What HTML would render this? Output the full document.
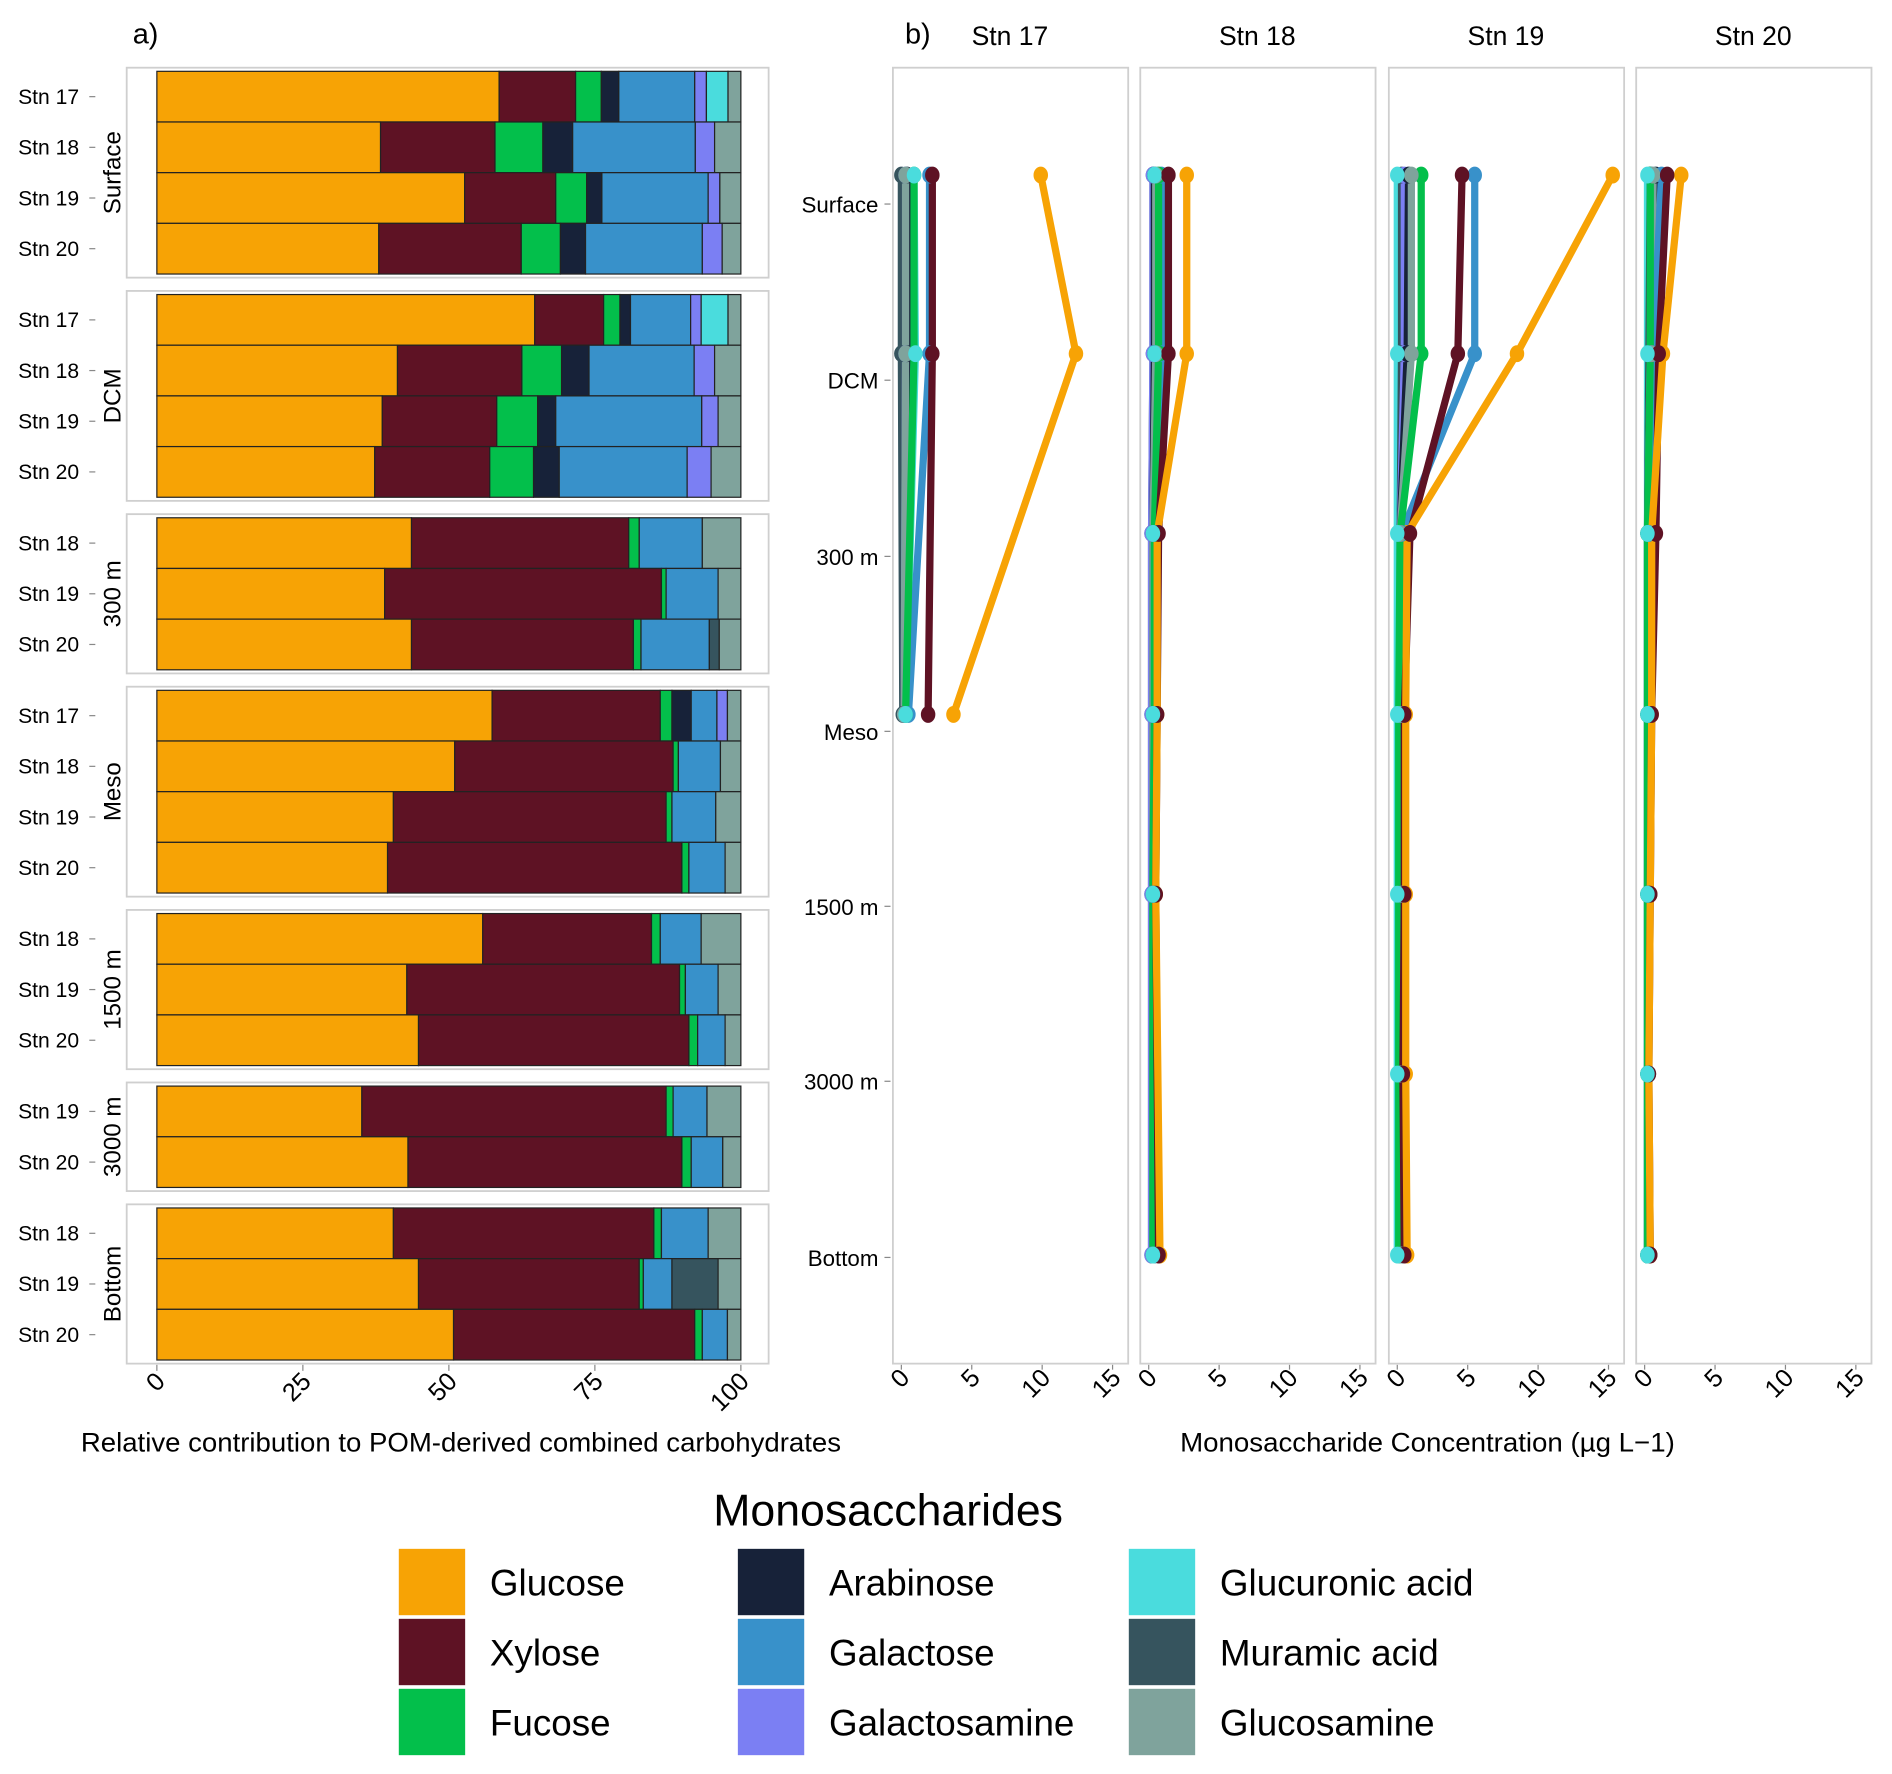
<!DOCTYPE html>
<html><head><meta charset="utf-8"><style>
html,body{margin:0;padding:0;background:#fff;}
svg{display:block;font-family:"Liberation Sans",sans-serif;}
</style></head><body>
<svg id="fig" width="1892" height="1774" viewBox="0 0 1568 1470" xmlns="http://www.w3.org/2000/svg">
<text x="110" y="36" font-size="24">a)</text>
<text x="750" y="36" font-size="24">b)</text>
<g id="pa"></g><g id="pb"></g><g id="leg"></g>
</svg>
<script>
const series = ["Glucose","Xylose","Fucose","Arabinose","Galactose","Galactosamine","Glucuronic acid","Muramic acid","Glucosamine"];
const colors = ["#f7a305","#5e1224","#03bf4b","#172239","#3891ca","#7b7ff3","#4adcdd","#36545e","#7fa39c"];
const facets = ["Surface","DCM","300 m","Meso","1500 m","3000 m","Bottom"];
const facetStations = [["Stn 17","Stn 18","Stn 19","Stn 20"],["Stn 17","Stn 18","Stn 19","Stn 20"],["Stn 18","Stn 19","Stn 20"],["Stn 17","Stn 18","Stn 19","Stn 20"],["Stn 18","Stn 19","Stn 20"],["Stn 19","Stn 20"],["Stn 18","Stn 19","Stn 20"]];
// cumulative boundaries (%) per bar, order of series
const relEdges = [
 [[58.6,71.7,76.1,79.1,92.1,94.1,97.8,97.8,100],[38.3,57.9,66.1,71.2,92.2,95.5,95.5,95.5,100],[52.7,68.3,73.6,76.2,94.4,96.4,96.4,96.4,100],[38.0,62.4,69.1,73.4,93.4,96.8,96.8,96.8,100]],
 [[64.7,76.5,79.3,81.1,91.4,93.2,97.8,97.8,100],[41.2,62.5,69.3,74.0,92.0,95.5,95.5,95.5,100],[38.6,58.2,65.2,68.3,93.3,96.1,96.1,96.1,100],[37.3,57.0,64.5,68.9,90.8,94.9,94.9,94.9,100]],
 [[43.6,80.8,82.6,82.6,93.4,93.4,93.4,93.4,100],[39.0,86.4,87.2,87.2,96.1,96.1,96.1,96.1,100],[43.6,81.6,82.9,82.9,94.6,94.6,94.6,96.3,100]],
 [[57.4,86.2,88.2,91.5,95.9,97.7,97.7,97.7,100],[51.0,88.4,89.3,89.3,96.5,96.5,96.5,96.5,100],[40.5,87.2,88.2,88.2,95.7,95.7,95.7,95.7,100],[39.5,89.9,91.1,91.1,97.3,97.3,97.3,97.3,100]],
 [[55.8,84.7,86.2,86.2,93.2,93.2,93.2,93.2,100],[42.8,89.5,90.5,90.5,96.1,96.1,96.1,96.1,100],[44.8,91.1,92.6,92.6,97.3,97.3,97.3,97.3,100]],
 [[35.1,87.2,88.4,88.4,94.2,94.2,94.2,94.2,100],[43.0,89.9,91.5,91.5,96.9,96.9,96.9,96.9,100]],
 [[40.5,85.1,86.4,86.4,94.4,94.4,94.4,94.4,100],[44.8,82.6,83.3,83.3,88.2,88.2,88.2,96.1,100],[50.8,92.1,93.4,93.4,97.7,97.7,97.7,97.7,100]]
];
const relTicks = [0,25,50,75,100];
const depths = ["Surface","DCM","300 m","Meso","1500 m","3000 m","Bottom"];
const stations = ["Stn 17","Stn 18","Stn 19","Stn 20"];
const concTicks = [0,5,10,15];
const stnDepthIdx = [[0,1,3],[0,1,2,3,4,6],[0,1,2,3,4,5,6],[0,1,2,3,4,5,6]];
const conc = [
 [[9.9,12.4,3.7],[2.2,2.2,1.9],[0.9,0.9,0.3],[0.4,0.4,0.2],[2.0,2.0,0.5],[0.3,0.3,0.2],[0.9,1.0,0.3],[0.0,0.0,0.1],[0.3,0.3,0.2]],
 [[2.7,2.7,0.6,0.6,0.5,0.8],[1.4,1.4,0.7,0.6,0.5,0.7],[0.7,0.7,0.4,0.4,0.3,0.3],[0.4,0.4,0.3,0.3,0.3,0.3],[0.9,0.9,0.4,0.4,0.3,0.4],[0.3,0.3,0.2,0.2,0.2,0.2],[0.4,0.4,0.3,0.3,0.3,0.3],[0.3,0.3,0.2,0.2,0.2,0.2],[0.5,0.5,0.3,0.3,0.3,0.3]],
 [[15.3,8.5,0.7,0.6,0.6,0.6,0.7],[4.6,4.3,0.9,0.5,0.5,0.4,0.5],[1.7,1.7,0.2,0.1,0.1,0.1,0.1],[0.8,0.7,0.2,0.2,0.2,0.2,0.2],[5.5,5.5,0.3,0.3,0.3,0.3,0.3],[0.5,0.5,0.2,0.2,0.2,0.2,0.2],[0.0,0.0,0.0,0.0,0.0,0.0,0.0],[0.3,0.3,0.2,0.2,0.2,0.2,0.2],[1.0,1.0,0.2,0.2,0.2,0.2,0.2]],
 [[2.6,1.3,0.5,0.5,0.4,0.3,0.4],[1.6,1.0,0.8,0.5,0.4,0.3,0.4],[0.4,0.4,0.2,0.2,0.2,0.2,0.2],[0.8,0.6,0.3,0.3,0.3,0.3,0.3],[1.2,0.6,0.3,0.3,0.3,0.3,0.3],[0.5,0.4,0.2,0.2,0.2,0.2,0.2],[0.2,0.2,0.2,0.2,0.2,0.2,0.2],[0.4,0.3,0.2,0.2,0.2,0.2,0.2],[0.6,0.5,0.3,0.3,0.3,0.3,0.3]]
];
const NS="http://www.w3.org/2000/svg";
function mk(tag,attrs,parent,txt){const e=document.createElementNS(NS,tag);for(const k in attrs)e.setAttribute(k,attrs[k]);if(txt!==undefined)e.textContent=txt;parent.appendChild(e);return e;}
// Panel a
const pa=document.getElementById('pa');
const xA=v=>130+v*4.84;
let y=56;
facets.forEach((f,fi)=>{
  const n=facetStations[fi].length;
  const h=n*42+6;
  const box=mk('rect',{x:105,y:y,width:532,height:h,fill:'none',stroke:'#cfcfcf','stroke-width':1.5},pa);
  
  
  const lab=mk('text',{x:0,y:0,'font-size':20,'text-anchor':'middle',transform:`translate(100,${y+h/2}) rotate(-90)`},pa,f);
  
  
  facetStations[fi].forEach((s,si)=>{
    const by=y+3+si*42;
    const t=mk('text',{x:15,y:by+27,'font-size':17.5},pa,s);
    
    
    mk('line',{x1:74,x2:79,y1:by+21,y2:by+21,stroke:'#888'},pa);
    let prev=0;
    relEdges[fi][si].forEach((e,k)=>{
      if(e-prev>0.01){
        const r=mk('rect',{x:xA(prev),y:by,width:xA(e)-xA(prev),height:42,fill:colors[k],stroke:'#222','stroke-width':1},pa);
        
        
      }
      prev=e;
    });
  });
  y+=h+11;
});
relTicks.forEach(v=>{
  mk('line',{x1:xA(v),x2:xA(v),y1:1131,y2:1136,stroke:'#888'},pa);
  const t=mk('text',{x:0,y:0,'font-size':21,'text-anchor':'end',transform:`translate(${xA(v)+8},${1146}) rotate(-45)`},pa,v);
  
  
});
const ta=mk('text',{x:382,y:1203,'font-size':22.5,'text-anchor':'middle',textLength:630,lengthAdjust:'spacingAndGlyphs'},pa,'Relative contribution to POM-derived combined carbohydrates');


// Panel b
const pb=document.getElementById('pb');
const boxL=[740,945,1151,1356];
const depthY=[145,293,442,592,741,890,1040];
const labY=[169,315,461,606,751,896,1042];
depths.forEach((d,i)=>{
  const t=mk('text',{x:728,y:labY[i]+7,'font-size':18.5,'text-anchor':'end'},pb,d);
  
  
  mk('line',{x1:733,x2:738,y1:labY[i],y2:labY[i],stroke:'#888'},pb);
});
stations.forEach((s,si)=>{
  const L=boxL[si];
  const xB=v=>L+7+v*11.67;
  const b=mk('rect',{x:L,y:56,width:195,height:1074,fill:'none',stroke:'#cfcfcf','stroke-width':1.5},pb);
  
  
  const st=mk('text',{x:L+97,y:37,'font-size':22,'text-anchor':'middle'},pb,s);
  
  
  concTicks.forEach(v=>{
    mk('line',{x1:xB(v),x2:xB(v),y1:1131,y2:1135,stroke:'#888'},pb);
    const t=mk('text',{x:0,y:0,'font-size':21,'text-anchor':'end',transform:`translate(${xB(v)+8},${1143}) rotate(-45)`},pb,v);
    
    
  });
  const lineOrder=[6,7,5,3,8,4,2,1,0];
  lineOrder.forEach(k=>{
    const vals=conc[si][k];
    const pts=vals.map((v,j)=>[xB(v),depthY[stnDepthIdx[si][j]]]);
    const pl=mk('polyline',{points:pts.map(p=>p.join(',')).join(' '),fill:'none',stroke:colors[k],'stroke-width':6,'stroke-linejoin':'round'},pb);
    
    
  });
  const ptOrder=[0,7,5,3,4,2,8,1,6];
  ptOrder.forEach(k=>{
    const vals=conc[si][k];
    vals.forEach((v,j)=>{
      const c=mk('ellipse',{cx:xB(v),cy:depthY[stnDepthIdx[si][j]],rx:6,ry:7,fill:colors[k]},pb);
      
      
    });
  });
});
const tb=mk('text',{x:1183,y:1203,'font-size':22.5,'text-anchor':'middle',textLength:410,lengthAdjust:'spacingAndGlyphs'},pb,'Monosaccharide Concentration (µg L−1)');


// Legend
const lg=document.getElementById('leg');
const lt=mk('text',{x:736,y:1264,'font-size':37,'text-anchor':'middle'},lg,'Monosaccharides');


const colX=[330,611,935];
series.forEach((s,k)=>{
  const c=Math.floor(k/3),r=k%3;
  const x=colX[c],yy=1283+r*58;
  const g=mk('g',{},lg);
  
  
  mk('rect',{x:x,y:yy,width:56,height:56,fill:colors[k],stroke:'#fff','stroke-width':1},g);
  mk('text',{x:x+76,y:yy+39,'font-size':30.5},g,s);
});
</script>
</body></html>
